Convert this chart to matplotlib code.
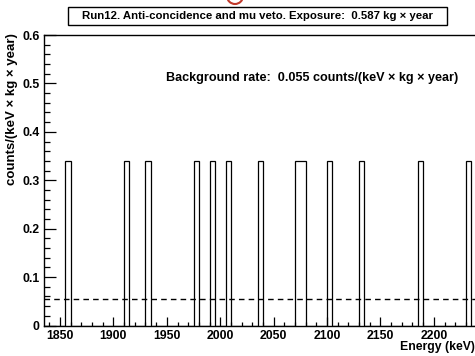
import numpy as np
import matplotlib
matplotlib.use("Agg")
import matplotlib.pyplot as plt
from matplotlib.patches import Ellipse, Rectangle

plt.rcParams.update({"font.family": ["Liberation Sans", "DejaVu Sans"],
                     "font.weight": "bold"})

# ---- data ----
EXPOSURE = 0.587          # kg x year
BIN_WIDTH = 5             # keV
X_RANGE = (1835, 2243)
BKG_RATE = 0.055          # counts/(keV x kg x year)
# lower edges of the 5 keV bins holding one event each
event_bins = [1855, 1910, 1930, 1975, 1990, 2005, 2035, 2070, 2075,
              2100, 2130, 2185, 2230]
event_counts = [1, 1, 1, 1, 1, 1, 1, 1, 1, 1, 1, 1, 1]

edges = np.arange(X_RANGE[0], X_RANGE[1] + BIN_WIDTH, BIN_WIDTH)
counts = np.zeros(len(edges) - 1)
for lo, n in zip(event_bins, event_counts):
    counts[(lo - X_RANGE[0]) // BIN_WIDTH] += n
rate = counts / (BIN_WIDTH * EXPOSURE)

W, H = 475, 356
fig = plt.figure(figsize=(W / 100, H / 100), dpi=100)
ax = fig.add_axes([44 / W, 1 - 325.5 / H, 1 - 44 / W + 0.01, (325.5 - 35) / H])

ax.stairs(rate, edges, color="black", lw=0.9)
ax.axhline(BKG_RATE, color="black", lw=1.0, ls=(0, (4, 3)))

ax.set_xlim(*X_RANGE)
ax.set_ylim(0, 0.6)
ax.set_xticks(np.arange(1850, 2201, 50))
ax.set_xticks(np.arange(1840, 2241, 10), minor=True)
ax.set_yticks(np.arange(0, 0.61, 0.1))
ax.set_yticks(np.arange(0, 0.61, 0.02), minor=True)
ax.set_yticklabels(["0", "0.1", "0.2", "0.3", "0.4", "0.5", "0.6"])
ax.tick_params(axis="both", which="both", direction="in", labelsize=8.8,
               top=False, right=False)
ax.tick_params(axis="y", which="major", length=8.6, width=0.9, pad=3)
ax.tick_params(axis="y", which="minor", length=4.3, width=0.9)
ax.tick_params(axis="x", which="major", length=6.3, width=0.9, pad=3)
ax.tick_params(axis="x", which="minor", length=3.1, width=0.9)
for lab in ax.get_xticklabels() + ax.get_yticklabels():
    lab.set_fontweight("bold")
for s in ax.spines.values():
    s.set_linewidth(1.0)
ax.spines["right"].set_visible(False)

ax.text(1949, 0.512, "Background rate:  0.055 counts/(keV \u00d7 kg \u00d7 year)",
        ha="left", va="center", fontsize=9.1, fontweight="bold")

# title box
fig.add_artist(Rectangle((68 / W, 1 - 25 / H), (447 - 68) / W, 18 / H,
                         transform=fig.transFigure, fc="white", ec="black", lw=1.0))
fig.text(257.5 / W, 1 - 16 / H,
         "Run12. Anti-concidence and mu veto. Exposure:  0.587 kg \u00d7 year",
         ha="center", va="center", fontsize=8.2, fontweight="bold")
fig.text(12 / W, 1 - 33 / H, "counts/(keV \u00d7 kg \u00d7 year)",
         rotation=90, ha="center", va="top", fontsize=9.5, fontweight="bold")
fig.text(1.0, 1 - 347 / H, "Energy (keV)", ha="right", va="center",
         fontsize=8.8, fontweight="bold")

# red ring peeking in at the top edge
fig.add_artist(Ellipse((235 / W, 1 + 4 / H), 16 / W, 16 / H,
                       transform=fig.transFigure, fill=False, ec="#c0392b", lw=1.5))

fig.savefig("out.png", dpi=100)
